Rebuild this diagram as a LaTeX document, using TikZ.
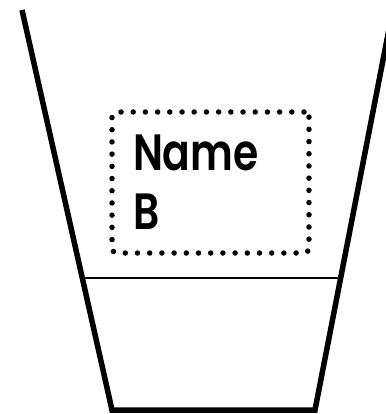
\documentclass[tikz,border=0pt]{standalone}
\usepackage{fontspec}
\newfontfamily\labelfont[FakeStretch=0.8]{Poppins SemiBold}
\begin{document}
\begin{tikzpicture}[
        x=1pt, y=-1pt,
        cupwall/.style={draw=black, line width=5.5pt, line join=miter},
        waterline/.style={draw=black, line width=1.6pt},
        namebox/.style={rectangle, draw=black, line width=5.5pt,
          dash pattern=on 0pt off 12.2pt, line cap=round,
          rounded corners=5pt, minimum width=197pt, minimum height=141pt,
          text width=155pt, align=left, inner sep=0pt,
          font=\labelfont\fontsize{51}{59}\selectfont},
      ]
      \useasboundingbox (0,0) rectangle (385,414);

      % Cup
      \coordinate (topleft) at (22,10);
      \coordinate (botleft) at (112,410);
      \coordinate (botright) at (315,410);
      \coordinate (topright) at (390,24);
      \draw[cupwall] (topleft) -- (botleft) -- (botright) -- (topright);

      % Fill level
      \coordinate (lvlleft) at (83,278);
      \coordinate (lvlright) at (341,278);
      \draw[waterline] (lvlleft) -- (lvlright);

      % Label
      \node[namebox] (label) at (210.5,182.5) {Name\\B};

\end{tikzpicture}
\end{document}
